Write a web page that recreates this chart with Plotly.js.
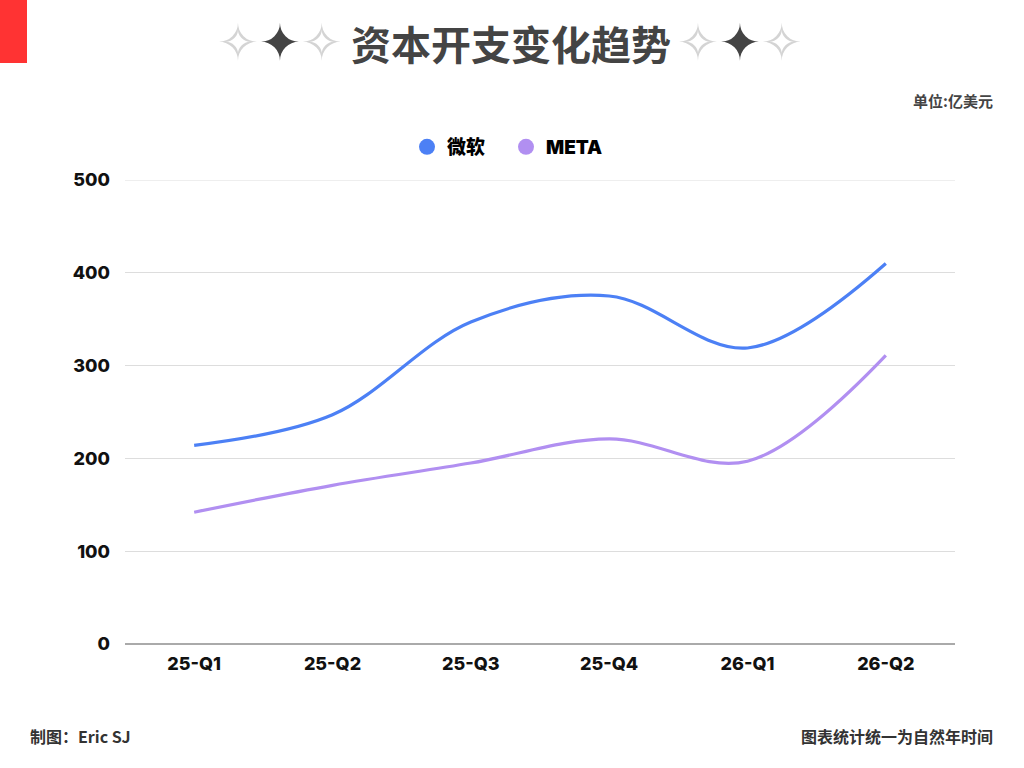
<!DOCTYPE html>
<html>
<head>
<meta charset="utf-8">
<script src="https://cdn.plot.ly/plotly-3.0.1.min.js"></script>
<style>
html,body{margin:0;padding:0;background:#fff;}
#chart{width:1024px;height:768px;}
</style>
</head>
<body>
<div id="chart"></div>
<script>
const categories = ['25-Q1','25-Q2','25-Q3','25-Q4','26-Q1','26-Q2'];
const msftValues = [214, 247, 347, 375, 319, 410];
const metaValues = [142, 171, 195, 221, 197, 311];
const seriesNames = ['微软', 'META'];
const seriesColors = ['#4C80F5', '#B18FF1'];
const yTicks = [0, 100, 200, 300, 400, 500];

const fontMain = 'Inter, "Noto Sans CJK SC", sans-serif';
const cjk = '"Noto Sans CJK SC", sans-serif';

// pixel helpers (plot area: x 125..955, y 180..644)
const px = x => (x - 125) / 830;
const py = y => (644 - y) / 464;

const traces = [
  {x: categories, y: msftValues, name: seriesNames[0], type: 'scatter', mode: 'lines',
   line: {color: seriesColors[0], width: 3.2, shape: 'spline', smoothing: 1}, showlegend: false},
  {x: categories, y: metaValues, name: seriesNames[1], type: 'scatter', mode: 'lines',
   line: {color: seriesColors[1], width: 3.2, shape: 'spline', smoothing: 1}, showlegend: false},
  {x: [null], y: [null], name: seriesNames[0], type: 'scatter', mode: 'markers',
   marker: {color: seriesColors[0], size: 19, symbol: 'circle'}},
  {x: [null], y: [null], name: seriesNames[1], type: 'scatter', mode: 'markers',
   marker: {color: seriesColors[1], size: 19, symbol: 'circle'}}
];

const sparkle = '<span style="color:#d4d4d4">✧</span>✦<span style="color:#d4d4d4">✧</span>';

const layout = {
  width: 1024, height: 768,
  paper_bgcolor: '#ffffff', plot_bgcolor: '#ffffff',
  margin: {l: 125, r: 69, t: 180, b: 124},
  font: {family: fontMain, color: '#111'},
  showlegend: true,
  legend: {orientation: 'h', x: px(506), xanchor: 'center', y: py(147), yanchor: 'middle',
    font: {family: fontMain, size: 19, color: '#000', weight: 900},
    itemwidth: 30, tracegroupgap: 0, entrywidth: 54},
  xaxis: {
    type: 'category', categoryorder: 'array', categoryarray: categories,
    range: [-0.5, 5.5],
    showgrid: false, zeroline: false, showline: false,
    ticks: '', ticklabelstandoff: 7,
    tickfont: {family: fontMain, size: 18, color: '#111', weight: 800}
  },
  yaxis: {
    range: [0, 500], tickvals: yTicks, ticktext: yTicks.map(String),
    showgrid: true, gridcolor: '#dddddd', gridwidth: 1,
    zeroline: true, zerolinecolor: '#aaaaaa', zerolinewidth: 1.5,
    showline: false, ticks: '', ticklabelstandoff: 14,
    tickfont: {family: fontMain, size: 18, color: '#111', weight: 800}
  },
  shapes: [
    {type: 'line', xref: 'paper', yref: 'y', x0: 0, x1: 1, y0: 500, y1: 500,
     line: {color: '#dddddd', width: 1}},
    {type: 'rect', xref: 'paper', yref: 'paper', layer: 'above',
     x0: px(0), x1: px(27), y0: py(63), y1: py(0),
     fillcolor: '#FF3333', line: {width: 0}}
  ],
  annotations: [
    {text: '资本开支变化趋势', xref: 'paper', yref: 'paper', x: px(511), y: py(43),
     xanchor: 'center', yanchor: 'middle', showarrow: false,
     font: {family: cjk, size: 40, color: '#444444', weight: 700}},
    {text: sparkle, xref: 'paper', yref: 'paper', x: px(280), y: py(43),
     xanchor: 'center', yanchor: 'middle', showarrow: false,
     font: {family: '"DejaVu Sans", sans-serif', size: 50, color: '#444444'}},
    {text: sparkle, xref: 'paper', yref: 'paper', x: px(740), y: py(43),
     xanchor: 'center', yanchor: 'middle', showarrow: false,
     font: {family: '"DejaVu Sans", sans-serif', size: 50, color: '#444444'}},
    {text: '单位:亿美元', xref: 'paper', yref: 'paper', x: px(995), y: py(100),
     xanchor: 'right', yanchor: 'middle', showarrow: false,
     font: {family: cjk, size: 15, color: '#444', weight: 700}},
    {text: '制图：Eric SJ', xref: 'paper', yref: 'paper', x: px(28), y: py(736),
     xanchor: 'left', yanchor: 'middle', showarrow: false,
     font: {family: cjk, size: 16, color: '#333', weight: 700}},
    {text: '图表统计统一为自然年时间', xref: 'paper', yref: 'paper', x: px(995), y: py(736),
     xanchor: 'right', yanchor: 'middle', showarrow: false,
     font: {family: cjk, size: 16, color: '#333', weight: 700}}
  ]
};

Plotly.newPlot('chart', traces, layout, {displayModeBar: false, staticPlot: true});
</script>
</body>
</html>
